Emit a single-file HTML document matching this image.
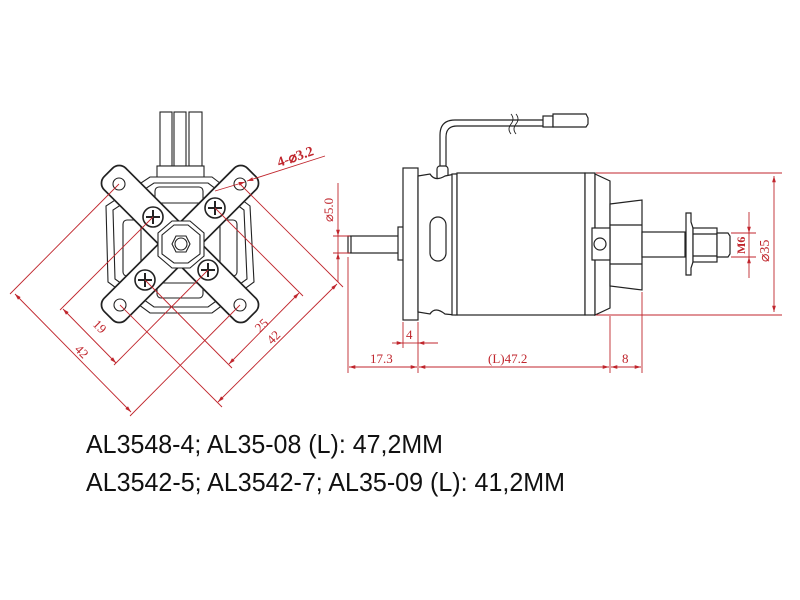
<!DOCTYPE html>
<html><head><meta charset="utf-8"><style>
html,body{margin:0;padding:0;background:#fff;}
svg{display:block;}
</style></head><body>
<svg width="800" height="600" viewBox="0 0 800 600" xmlns="http://www.w3.org/2000/svg">
<defs>
<marker id="ar" viewBox="0 0 10 10" refX="10" refY="5" markerWidth="7" markerHeight="7" orient="auto-start-reverse">
<path d="M0,2 L10,5 L0,8 z" fill="#c0262d"/></marker>
</defs>
<rect width="800" height="600" fill="#fff"/>

<!-- LEFT VIEW -->
<g stroke="#222" stroke-width="1.1" fill="none">
  <rect x="160" y="112" width="12" height="54" fill="#fff"/>
  <rect x="174" y="112" width="12" height="54" fill="#fff"/>
  <rect x="189" y="112" width="13" height="54" fill="#fff"/>
  <rect x="157" y="166" width="47" height="16" fill="#fff"/>
  <polygon points="150,177 212,177 250,206 254,282 212,313 150,313 108,282 106,206" fill="#fff"/>
  <polygon points="154,183 208,183 244,210 247,279 208,307 154,307 115,279 113,210"/>
  <rect x="155" y="187" width="48" height="16" rx="4"/>
  <rect x="157" y="283" width="46" height="15" rx="4"/>
  <rect x="123" y="220" width="18" height="56" rx="4"/>
  <rect x="220" y="220" width="17" height="56" rx="4"/>
</g>
<g transform="translate(180,244)">
  <g stroke="#222" stroke-width="2.2" fill="#fff">
    <rect x="-101" y="-15" width="202" height="30" rx="9" transform="rotate(45)"/>
    <rect x="-101" y="-15" width="202" height="30" rx="9" transform="rotate(-45)"/>
  </g>
  <g fill="#fff">
    <rect x="-100.4" y="-14.4" width="200.8" height="28.8" rx="8.5" transform="rotate(45)"/>
    <rect x="-100.4" y="-14.4" width="200.8" height="28.8" rx="8.5" transform="rotate(-45)"/>
  </g>
</g>
<g stroke="#222" stroke-width="1.1" fill="#fff">
  <circle cx="119" cy="184" r="6"/>
  <circle cx="240" cy="184" r="6"/>
  <circle cx="120" cy="305" r="6"/>
  <circle cx="240" cy="305" r="6"/>
  <polygon points="172,221 190,221 204,233 204,256 190,268 172,268 158,256 158,233"/>
  <polygon points="174,225 188,225 200,235 200,254 188,263 174,263 162,254 162,235"/>
  <polygon points="176,236 186,236 190,244 186,252 176,252 172,244"/>
  <circle cx="181" cy="244" r="6"/>
  <g stroke-width="1.6">
    <circle cx="153" cy="217" r="10"/><circle cx="215" cy="208" r="10"/>
    <circle cx="145" cy="280" r="10"/><circle cx="208" cy="270" r="10"/>
  </g>
  <path d="M146,217h14M153,210v14 M208,208h14M215,201v14 M138,280h14M145,273v14 M201,270h14M208,263v14" stroke-width="2"/>
</g>

<!-- left dims -->
<g stroke="#c0262d" stroke-width="0.9" fill="none">
  <line x1="119" y1="184" x2="10" y2="294"/>
  <line x1="240" y1="305" x2="130" y2="416"/>
  <line x1="15" y1="294" x2="131" y2="412" marker-start="url(#ar)" marker-end="url(#ar)"/>
  <line x1="153" y1="217" x2="60" y2="310"/>
  <line x1="208" y1="270" x2="114" y2="365"/>
  <line x1="63" y1="309" x2="116" y2="363" marker-start="url(#ar)" marker-end="url(#ar)"/>
  <line x1="240" y1="184" x2="343" y2="287"/>
  <line x1="120" y1="305" x2="222" y2="407"/>
  <line x1="337" y1="284" x2="218" y2="402" marker-start="url(#ar)" marker-end="url(#ar)"/>
  <line x1="215" y1="208" x2="303" y2="296"/>
  <line x1="145" y1="280" x2="232" y2="368"/>
  <line x1="299" y1="293" x2="229" y2="364" marker-start="url(#ar)" marker-end="url(#ar)"/>
  <line x1="215" y1="191" x2="245" y2="182" marker-end="url(#ar)"/>
  <line x1="325" y1="156" x2="247" y2="181" marker-end="url(#ar)"/>
</g>
<g fill="#c0262d" font-family="Liberation Serif, serif" font-size="13">
  <text transform="translate(74,350) rotate(45)">42</text>
  <text transform="translate(92,325) rotate(45)">19</text>
  <text transform="translate(260,333) rotate(-45)">25</text>
  <text transform="translate(272,345) rotate(-45)">42</text>
  <text transform="translate(279,167) rotate(-19)" font-size="14" font-weight="bold">4-⌀3.2</text>
</g>

<!-- RIGHT VIEW -->
<g stroke="#222" stroke-width="1.2" fill="#fff">
  <path d="M440,166 V135 Q440,120 455,120 H543 M446,166 V137 Q446,126 457,126 H543" fill="none"/>
  <path d="M511,114 q4,5 0,10 q-4,5 0,10 M516,114 q4,5 0,10 q-4,5 0,10" fill="none" stroke-width="0.9"/>
  <rect x="543" y="116" width="10" height="11"/>
  <path d="M553,114 H586 L588,118 V124 L586,127 H553 Z"/>
  <rect x="437" y="166" width="11" height="14" rx="3"/>
  <rect x="348" y="236" width="52" height="17"/>
  <line x1="351" y1="236" x2="351" y2="253"/>
  <rect x="398" y="227" width="6" height="33"/>
  <rect x="403" y="168" width="15" height="152"/>
  <path d="M418,176 L430,174 Q435,182 445,176 L455,174 V315 L445,314 Q435,306 430,314 L418,312 Z"/>
  <rect x="430" y="217" width="16" height="44" rx="8"/>
  <rect x="452" y="174" width="5" height="141"/>
  <rect x="457" y="173" width="128" height="142"/>
  <rect x="585" y="173" width="10" height="142"/>
  <path d="M595,174 L610,181 V308 L595,315 Z"/>
  <path d="M610,204 L642,200 V290 L610,286 Z"/>
  <line x1="610" y1="225" x2="642" y2="225"/>
  <line x1="610" y1="264" x2="642" y2="264"/>
  <rect x="592" y="228" width="18" height="32"/>
  <circle cx="600" cy="244" r="6"/>
  <rect x="642" y="232" width="43" height="25"/>
  <path d="M686,213 H691 V222 L693,228 V262 L691,268 V275 H686 Z"/>
  <rect x="693" y="228" width="24" height="34"/>
  <line x1="693" y1="234" x2="717" y2="234"/><line x1="693" y1="256" x2="717" y2="256"/>
  <path d="M717,233 H728 L730,236 V254 L728,257 H717 Z"/>
</g>

<g stroke="#c0262d" stroke-width="0.9" fill="none">
  <line x1="596" y1="173" x2="782" y2="173"/>
  <line x1="596" y1="315" x2="782" y2="315"/>
  <line x1="774" y1="176" x2="774" y2="312" marker-start="url(#ar)" marker-end="url(#ar)"/>
  <line x1="731" y1="233" x2="756" y2="233"/>
  <line x1="731" y1="257" x2="756" y2="257"/>
  <line x1="749" y1="212" x2="749" y2="233" marker-end="url(#ar)"/>
  <line x1="749" y1="278" x2="749" y2="257" marker-end="url(#ar)"/>
  <line x1="749" y1="233" x2="749" y2="257"/>
  <line x1="333" y1="236" x2="350" y2="236"/>
  <line x1="333" y1="253" x2="350" y2="253"/>
  <line x1="338" y1="183" x2="338" y2="236" marker-end="url(#ar)"/>
  <line x1="338" y1="282" x2="338" y2="253" marker-end="url(#ar)"/>
  <line x1="338" y1="236" x2="338" y2="253"/>
  <line x1="348" y1="257" x2="348" y2="373"/>
  <line x1="403" y1="322" x2="403" y2="348"/>
  <line x1="418" y1="322" x2="418" y2="373"/>
  <line x1="610" y1="316" x2="610" y2="373"/>
  <line x1="642" y1="292" x2="642" y2="373"/>
  <line x1="392" y1="343" x2="403" y2="343" marker-end="url(#ar)"/>
  <line x1="438" y1="343" x2="418" y2="343" marker-end="url(#ar)"/>
  <line x1="403" y1="343" x2="418" y2="343"/>
  <line x1="349" y1="367" x2="417" y2="367" marker-start="url(#ar)" marker-end="url(#ar)"/>
  <line x1="419" y1="367" x2="609" y2="367" marker-start="url(#ar)" marker-end="url(#ar)"/>
  <line x1="611" y1="367" x2="641" y2="367" marker-start="url(#ar)" marker-end="url(#ar)"/>
</g>
<g fill="#c0262d" font-family="Liberation Serif, serif" font-size="13">
  <text transform="translate(333,222) rotate(-90)">⌀5.0</text>
  <text transform="translate(769,262) rotate(-90)" font-size="14">⌀35</text>
  <text transform="translate(745,254) rotate(-90)" font-weight="bold" font-size="12">M6</text>
  <text x="406" y="339">4</text>
  <text x="370" y="363">17.3</text>
  <text x="488" y="363">(L)47.2</text>
  <text x="622" y="363">8</text>
</g>

<g fill="#111" font-family="Liberation Sans, sans-serif" font-size="26">
  <text x="86" y="453" textLength="357" lengthAdjust="spacingAndGlyphs">AL3548-4; AL35-08 (L): 47,2MM</text>
  <text x="86" y="491" textLength="479" lengthAdjust="spacingAndGlyphs">AL3542-5; AL3542-7; AL35-09 (L): 41,2MM</text>
</g>
</svg>
</body></html>
